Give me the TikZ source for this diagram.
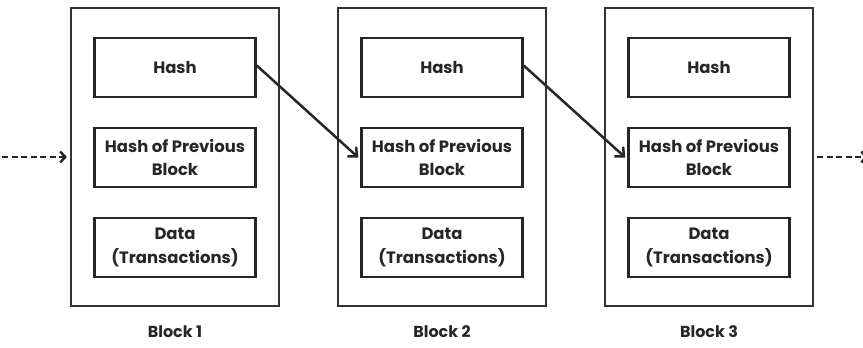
\documentclass[tikz,border=0pt]{standalone}
\usepackage{fontspec}
\setmainfont{Poppins}
\usetikzlibrary{arrows.meta}
\begin{document}
\begin{tikzpicture}[x=1bp,y=-1bp,
  blockbox/.style={draw=black!80,line width=2.2bp,minimum width=208bp,minimum height=298bp,inner sep=0pt},
  field/.style={draw=black!85,line width=2.4bp,minimum width=161bp,minimum height=59bp,inner sep=0pt,
    align=center,font=\fontsize{16.5}{23.5}\selectfont\bfseries,text=black!85},
  caption/.style={font=\fontsize{16}{19}\selectfont\bfseries,text=black!85},
  link/.style={draw=black!85,line width=2.5bp,-{Straight Barb[length=7bp,width=13bp,line width=2.5bp]}},
  ghost/.style={draw=black!85,line width=2.5bp,dash pattern=on 6bp off 3.5bp,-{Straight Barb[length=5bp,width=11bp,line width=2.5bp]}}]
\useasboundingbox (0,0) rectangle (863,347);
\foreach \i/\x in {1/175,2/442,3/709}{
  \node[blockbox] (b\i) at (\x,157) {};
  \node[field] (h\i) at (\x,67.5) {Hash};
  \node[field] (p\i) at (\x,157.5) {Hash of Previous\\Block};
  \node[field] (d\i) at (\x,247.5) {Data\\(Transactions)};
  \node[caption] (c\i) at (\x,332) {Block \i};
}
\coordinate (inL) at (2,157);
\coordinate (outR) at (868,157);
\draw[ghost] (inL) -- ([xshift=-3bp]b1.west);
\draw[ghost] ([xshift=3bp]b3.east) -- (outR);
\draw[link] (h1.east) ++(0,-2) -- ([xshift=-2bp]p2.west);
\draw[link] (h2.east) ++(0,-2) -- ([xshift=-2bp]p3.west);
\end{tikzpicture}
\end{document}
